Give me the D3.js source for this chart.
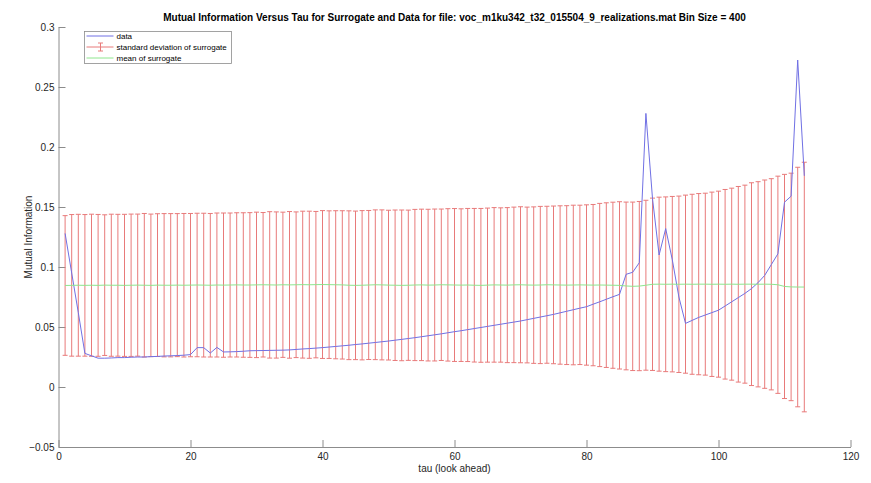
<!DOCTYPE html>
<html>
<head>
<meta charset="utf-8">
<title>Mutual Information Versus Tau</title>
<script src="https://d3js.org/d3.v7.min.js"></script>
<style>
    body { margin: 0; background: #fff; }
    svg { display: block; font-family: "Liberation Sans", Arial, sans-serif; }
    .axis path, .axis line { stroke: #8c8c8c; }
    .axis text { fill: #262626; font-size: 10px; font-family: "Liberation Sans", Arial, sans-serif; }
</style>
</head>
<body>
<div id="chart"></div>
<script>
// tau (look ahead) 1..113
var tau = d3.range(1, 114);

// mutual information of the data
var dataMI = [
    0.128, 0.095, 0.062, 0.028, 0.026, 0.024, 0.024, 0.0242, 0.0245, 0.0245,
    0.0248, 0.025, 0.025, 0.0253, 0.0255, 0.0258, 0.026, 0.0262, 0.0265, 0.027,
    0.0328, 0.0328, 0.0283, 0.033, 0.0292, 0.0293, 0.0295, 0.0298, 0.0302, 0.0303,
    0.0304, 0.0305, 0.0306, 0.0307, 0.0309, 0.0313, 0.0317, 0.032, 0.0324, 0.0328,
    0.0333, 0.0338, 0.0343, 0.0348, 0.0354, 0.0359, 0.0365, 0.0371, 0.0377, 0.0383,
    0.039, 0.0397, 0.0404, 0.0411, 0.0419, 0.0427, 0.0435, 0.0443, 0.0452, 0.0461,
    0.0469, 0.0478, 0.0487, 0.0496, 0.0505, 0.0514, 0.0523, 0.0532, 0.0541, 0.055,
    0.0561, 0.0572, 0.0583, 0.0594, 0.0605, 0.0618, 0.0631, 0.0644, 0.0657, 0.0669,
    0.069, 0.071, 0.0731, 0.0752, 0.0772, 0.0939, 0.0956, 0.1036, 0.228, 0.157,
    0.110, 0.132, 0.106, 0.075, 0.053, 0.0555, 0.058, 0.060, 0.062, 0.064,
    0.0675, 0.071, 0.0745, 0.078, 0.082, 0.087, 0.093, 0.102, 0.111, 0.154,
    0.159, 0.2725, 0.176
];

// mean of surrogate
var surrMean = [
    0.0846, 0.0847, 0.0848, 0.0847, 0.0848, 0.0847, 0.0849, 0.0848, 0.0848, 0.0847,
    0.0848, 0.0849, 0.0848, 0.0847, 0.0849, 0.0848, 0.0848, 0.0849, 0.0848, 0.0849,
    0.0850, 0.0849, 0.0848, 0.0850, 0.0849, 0.0850, 0.0851, 0.0850, 0.0850, 0.0851,
    0.0852, 0.0851, 0.0850, 0.0852, 0.0851, 0.0852, 0.0853, 0.0852, 0.0853, 0.0854,
    0.0853, 0.0852, 0.0851, 0.0848, 0.0847, 0.0848, 0.0850, 0.0852, 0.0851, 0.0849,
    0.0848, 0.0847, 0.0848, 0.0850, 0.0851, 0.0849, 0.0850, 0.0852, 0.0851, 0.0850,
    0.0849, 0.0850, 0.0848, 0.0847, 0.0849, 0.0851, 0.0850, 0.0849, 0.0851, 0.0852,
    0.0850, 0.0849, 0.0850, 0.0852, 0.0851, 0.0850, 0.0849, 0.0850, 0.0851, 0.0850,
    0.0849, 0.0850, 0.0849, 0.0848, 0.0847, 0.0842, 0.0839, 0.0841, 0.0848, 0.0856,
    0.0857, 0.0856, 0.0857, 0.0856, 0.0857, 0.0856, 0.0857, 0.0857, 0.0856, 0.0857,
    0.0856, 0.0857, 0.0856, 0.0857, 0.0857, 0.0856, 0.0857, 0.0856, 0.0852, 0.0838,
    0.0834, 0.0833, 0.0833
];

// standard deviation of surrogate
var surrStd = [
    0.0582, 0.0590, 0.0591, 0.0590, 0.0592, 0.0591, 0.0586, 0.0592, 0.0591, 0.0592,
    0.0593, 0.0592, 0.0598, 0.0594, 0.0595, 0.0597, 0.0597, 0.0596, 0.0598, 0.0597,
    0.0598, 0.0599, 0.0598, 0.0600, 0.0601, 0.0600, 0.0601, 0.0602, 0.0603, 0.0606,
    0.0602, 0.0610, 0.0609, 0.0605, 0.0611, 0.0607, 0.0612, 0.0613, 0.0610, 0.0616,
    0.0615, 0.0617, 0.0618, 0.0620, 0.0619, 0.0622, 0.0621, 0.0624, 0.0625, 0.0624,
    0.0627, 0.0628, 0.0626, 0.0630, 0.0631, 0.0632, 0.0633, 0.0631, 0.0635, 0.0637,
    0.0636, 0.0638, 0.0640, 0.0641, 0.0642, 0.0644, 0.0643, 0.0646, 0.0648, 0.0650,
    0.0649, 0.0652, 0.0655, 0.0654, 0.0657, 0.0660, 0.0662, 0.0665, 0.0664, 0.0668,
    0.0672, 0.0680, 0.0686, 0.0692, 0.0697, 0.0699, 0.0702, 0.0705, 0.0708, 0.0718,
    0.0725, 0.0728, 0.0731, 0.0735, 0.0742, 0.0750, 0.0755, 0.0758, 0.0768, 0.0775,
    0.0790, 0.0800, 0.0815, 0.0825, 0.0845, 0.0855, 0.0868, 0.0880, 0.0905, 0.0934,
    0.0948, 0.0998, 0.1040
];

var xTicks = [0, 20, 40, 60, 80, 100, 120];
var yTicks = [-0.05, 0, 0.05, 0.1, 0.15, 0.2, 0.25, 0.3];
var legendLabels = ["data", "standard deviation of surrogate", "mean of surrogate"];

var margin = {top: 27, right: 20.5, bottom: 36, left: 58.5},
    width = 871 - margin.left - margin.right,
    height = 483 - margin.top - margin.bottom;

var svg = d3.select("#chart")
    .append("svg")
    .attr("width", 871)
    .attr("height", 483);

var g = svg.append("g")
    .attr("transform", "translate(" + margin.left + "," + margin.top + ")");

var x = d3.scaleLinear().domain([0, 120]).range([0, width]);
var y = d3.scaleLinear().domain([-0.05, 0.3]).range([height, 0]);

// axes (MATLAB style, ticks pointing in, box off)
g.append("g")
    .attr("class", "axis")
    .attr("transform", "translate(0," + height + ")")
    .call(d3.axisBottom(x).tickValues(xTicks).tickSizeInner(-7).tickSizeOuter(0).tickPadding(6));

g.append("g")
    .attr("class", "axis")
    .call(d3.axisLeft(y).tickValues(yTicks).tickSizeInner(-7).tickSizeOuter(0).tickPadding(4)
        .tickFormat(function(d) { return d3.format("")(+d.toFixed(2)); }));

var redC = "#e87a7a", blueC = "#7070e4", greenC = "#8ee68e";

// error bars
var capW = 2.5;
g.append("g")
    .selectAll("path")
    .data(tau)
    .enter()
    .append("path")
    .attr("d", function(t, i) {
        var cx = x(t),
            top = y(surrMean[i] + surrStd[i]),
            bot = y(surrMean[i] - surrStd[i]);
        return "M" + cx + "," + top + "V" + bot +
            "M" + (cx - capW) + "," + top + "H" + (cx + capW) +
            "M" + (cx - capW) + "," + bot + "H" + (cx + capW);
    })
    .attr("fill", "none")
    .attr("stroke", redC)
    .attr("stroke-width", 1);

var line = function(vals) {
    return d3.line()
        .x(function(t) { return x(t); })
        .y(function(t, i) { return y(vals[i]); })(tau);
};

g.append("path")
    .attr("d", line(dataMI))
    .attr("fill", "none")
    .attr("stroke", blueC)
    .attr("stroke-width", 1);

g.append("path")
    .attr("d", line(surrMean))
    .attr("fill", "none")
    .attr("stroke", greenC)
    .attr("stroke-width", 1);

// title and axis labels
svg.append("text")
    .attr("x", margin.left + width / 2)
    .attr("y", 21)
    .attr("text-anchor", "middle")
    .style("font-size", "10px")
    .style("font-weight", "bold")
    .attr("fill", "#000")
    .text("Mutual Information Versus Tau for Surrogate and Data for file: voc_m1ku342_t32_015504_9_realizations.mat Bin Size = 400");

svg.append("text")
    .attr("x", margin.left + width / 2)
    .attr("y", 472)
    .attr("text-anchor", "middle")
    .style("font-size", "10px")
    .attr("fill", "#262626")
    .text("tau (look ahead)");

svg.append("text")
    .attr("transform", "translate(32," + (margin.top + height / 2) + ") rotate(-90)")
    .attr("text-anchor", "middle")
    .style("font-size", "10px")
    .attr("fill", "#262626")
    .text("Mutual Information");

// legend
var legend = svg.append("g").attr("transform", "translate(84.5,31.5)");
legend.append("rect")
    .attr("width", 147)
    .attr("height", 32)
    .attr("fill", "#fff")
    .attr("stroke", "#8c8c8c")
    .attr("stroke-width", 0.8);

var legendColors = [blueC, redC, greenC];
legendLabels.forEach(function(lbl, i) {
    var ly = 4.5 + i * 11;
    legend.append("line")
        .attr("x1", 2).attr("x2", 29)
        .attr("y1", ly).attr("y2", ly)
        .attr("stroke", legendColors[i]);
    if (i === 1) {
        legend.append("path")
            .attr("d", "M16," + (ly - 4) + "V" + (ly + 4) + "M13.5," + (ly - 4) + "H18.5M13.5," + (ly + 4) + "H18.5")
            .attr("fill", "none")
            .attr("stroke", legendColors[i]);
    }
    legend.append("text")
        .attr("x", 32)
        .attr("y", ly + 3)
        .style("font-size", "8px")
        .attr("fill", "#000")
        .text(lbl);
});
</script>
</body>
</html>
